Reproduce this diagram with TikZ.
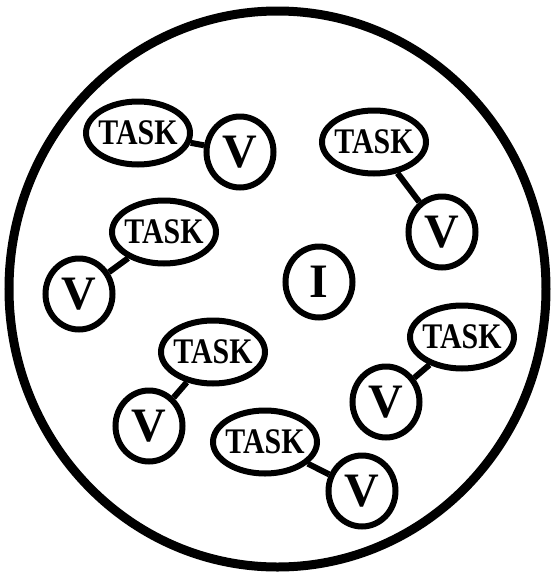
\documentclass[tikz,border=0pt]{standalone}
\usepackage{fontspec}
\setmainfont{Liberation Serif}
\usetikzlibrary{shapes.geometric}
\newcommand{\tasktext}{\makebox[0pt]{\scalebox{0.83}[1]{TASK}}}
\begin{document}
\begin{tikzpicture}[x=1pt,y=-1pt,
  taskbox/.style={ellipse,draw,line width=6pt,minimum width=104pt,minimum height=63pt,inner sep=0pt,font=\fontsize{36}{36}\selectfont\bfseries},
  vbox/.style={ellipse,draw,line width=6pt,minimum width=67pt,minimum height=71pt,inner sep=0pt,font=\fontsize{48}{48}\selectfont\bfseries},
  link/.style={line width=6pt}]
\useasboundingbox (0,0) rectangle (553,574);
\draw[line width=9pt] (277.5,289) ellipse [x radius=268.5, y radius=278];
\node[taskbox] (t1) at (138,133) {\tasktext};
\node[vbox] (v1) at (240,152) {V};
\node[taskbox] (t2) at (374,142) {\tasktext};
\node[vbox] (v2) at (442,232) {V};
\node[taskbox] (t3) at (164,232) {\tasktext};
\node[vbox] (v3) at (79,294) {V};
\node[taskbox] (t4) at (213,352) {\tasktext};
\node[vbox] (v4) at (149,426) {V};
\node[taskbox] (t5) at (462,337) {\tasktext};
\node[vbox] (v5) at (386,402) {V};
\node[taskbox] (t6) at (265,442) {\tasktext};
\node[vbox] (v6) at (362,491) {V};
\node[vbox] (i) at (319,282) {I};
\draw[link] (t1) -- (v1);
\draw[link] (t2) -- (v2);
\draw[link] (t3) -- (v3);
\draw[link] (t4) -- (v4);
\draw[link] (t5) -- (v5);
\draw[link] (t6) -- (v6);
\end{tikzpicture}
\end{document}
